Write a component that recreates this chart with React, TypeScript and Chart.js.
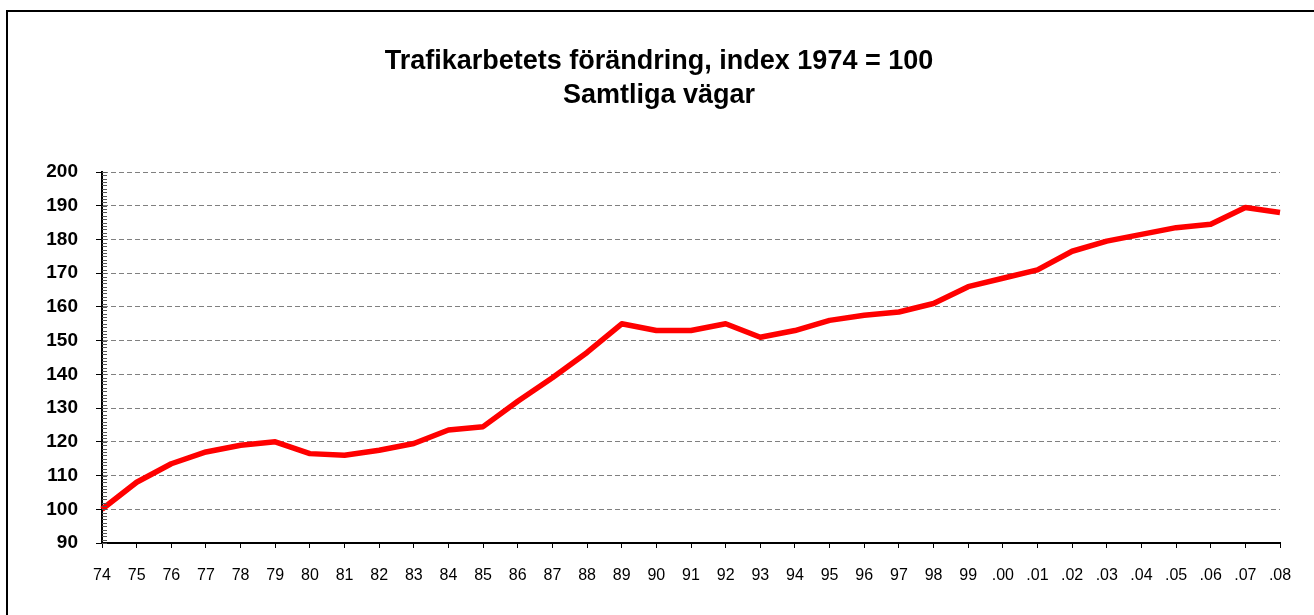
import React, { useEffect, useRef } from "react";
import { Chart, registerables } from "chart.js";

Chart.register(...registerables);

const TITLE_LINES = ["Trafikarbetets förändring, index 1974 = 100", "Samtliga vägar"];
const YEARS = [
  "74", "75", "76", "77", "78", "79", "80", "81", "82", "83", "84", "85", "86", "87", "88", "89",
  "90", "91", "92", "93", "94", "95", "96", "97", "98", "99",
  ".00", ".01", ".02", ".03", ".04", ".05", ".06", ".07", ".08",
];
const INDEX_VALUES = [
  100, 108, 113.5, 117, 119, 120, 116.5, 116, 117.5, 119.5, 123.5, 124.5, 132, 139, 146.5, 155,
  153, 153, 155, 151, 153, 156, 157.5, 158.5, 161, 166,
  168.5, 171, 176.5, 179.5, 181.5, 183.5, 184.5, 189.5, 188,
];
const Y_MIN = 90;
const Y_MAX = 200;
const Y_STEP = 10;

const FONT = "'Liberation Sans', Arial, Helvetica, sans-serif";
const W = 1314;
const H = 615;

const decorPlugin = {
  id: "decor",
  afterDraw(chart: any) {
    const ctx = chart.ctx;
    const y = chart.scales.y;
    const area = chart.chartArea;
    ctx.save();
    // title
    ctx.fillStyle = "#000";
    ctx.textAlign = "center";
    ctx.textBaseline = "alphabetic";
    ctx.font = `bold 27px ${FONT}`;
    ctx.fillText(TITLE_LINES[0], 659, 69);
    ctx.fillText(TITLE_LINES[1], 659, 103);
    // minor ticks on the y axis (every unit), inside the plot
    ctx.strokeStyle = "#555";
    ctx.lineWidth = 1;
    ctx.beginPath();
    for (let v = Y_MIN; v <= Y_MAX; v += 1) {
      const py = Math.round(y.getPixelForValue(v)) + 0.5;
      ctx.moveTo(area.left, py);
      ctx.lineTo(area.left + 5, py);
    }
    ctx.stroke();
    // outer frame (left and top edges visible)
    ctx.strokeStyle = "#000";
    ctx.lineWidth = 2;
    ctx.beginPath();
    ctx.moveTo(7, H + 5);
    ctx.lineTo(7, 11);
    ctx.lineTo(W + 5, 11);
    ctx.stroke();
    ctx.restore();
  },
};

export default function App() {
  const ref = useRef<HTMLCanvasElement | null>(null);

  useEffect(() => {
    if (!ref.current) return;
    const chart = new Chart(ref.current, {
      type: "line",
      data: {
        labels: YEARS,
        datasets: [
          {
            data: INDEX_VALUES,
            borderColor: "#ff0000",
            backgroundColor: "#ff0000",
            borderWidth: 5.5,
            pointRadius: 0,
            tension: 0,
            borderJoinStyle: "round",
            borderCapStyle: "butt",
            fill: false,
          },
        ],
      },
      options: {
        responsive: false,
        animation: false,
        devicePixelRatio: 1,
        layout: { padding: { left: 0, right: 34, top: 172, bottom: 0 } },
        plugins: {
          legend: { display: false },
          tooltip: { enabled: false },
          title: { display: false },
        },
        scales: {
          x: {
            type: "category",
            offset: false,
            grid: {
              offset: false,
              drawOnChartArea: false,
              drawTicks: true,
              tickLength: 5,
              tickColor: "#000",
              tickWidth: 1,
            },
            border: { display: true, color: "#000", width: 2 },
            ticks: {
              autoSkip: false,
              maxRotation: 0,
              minRotation: 0,
              color: "#000",
              padding: 18,
              font: { family: FONT, size: 16 },
            },
            afterFit: (scale: any) => {
              scale.height = 72;
            },
          },
          y: {
            min: Y_MIN,
            max: Y_MAX,
            grid: {
              color: (c: any) => (c.tick && c.tick.value === Y_MIN ? "rgba(0,0,0,0)" : "#808080"),
              lineWidth: 1,
              drawTicks: true,
              tickLength: 6,
              tickColor: "#000",
              tickWidth: 1,
              tickBorderDash: [],
            },
            border: { display: true, color: "#000", width: 2, dash: [5, 3] },
            ticks: {
              stepSize: Y_STEP,
              color: "#000",
              padding: 18,
              font: { family: FONT, size: 19, weight: "bold" },
            },
            afterFit: (scale: any) => {
              scale.width = 102;
            },
          },
        },
      },
      plugins: [decorPlugin],
    } as any);
    return () => chart.destroy();
  }, []);

  return (
    <div style={{ position: "absolute", left: 0, top: 0, width: W, height: H, background: "#fff" }}>
      <canvas ref={ref} width={W} height={H} style={{ display: "block", width: W, height: H }} />
    </div>
  );
}
